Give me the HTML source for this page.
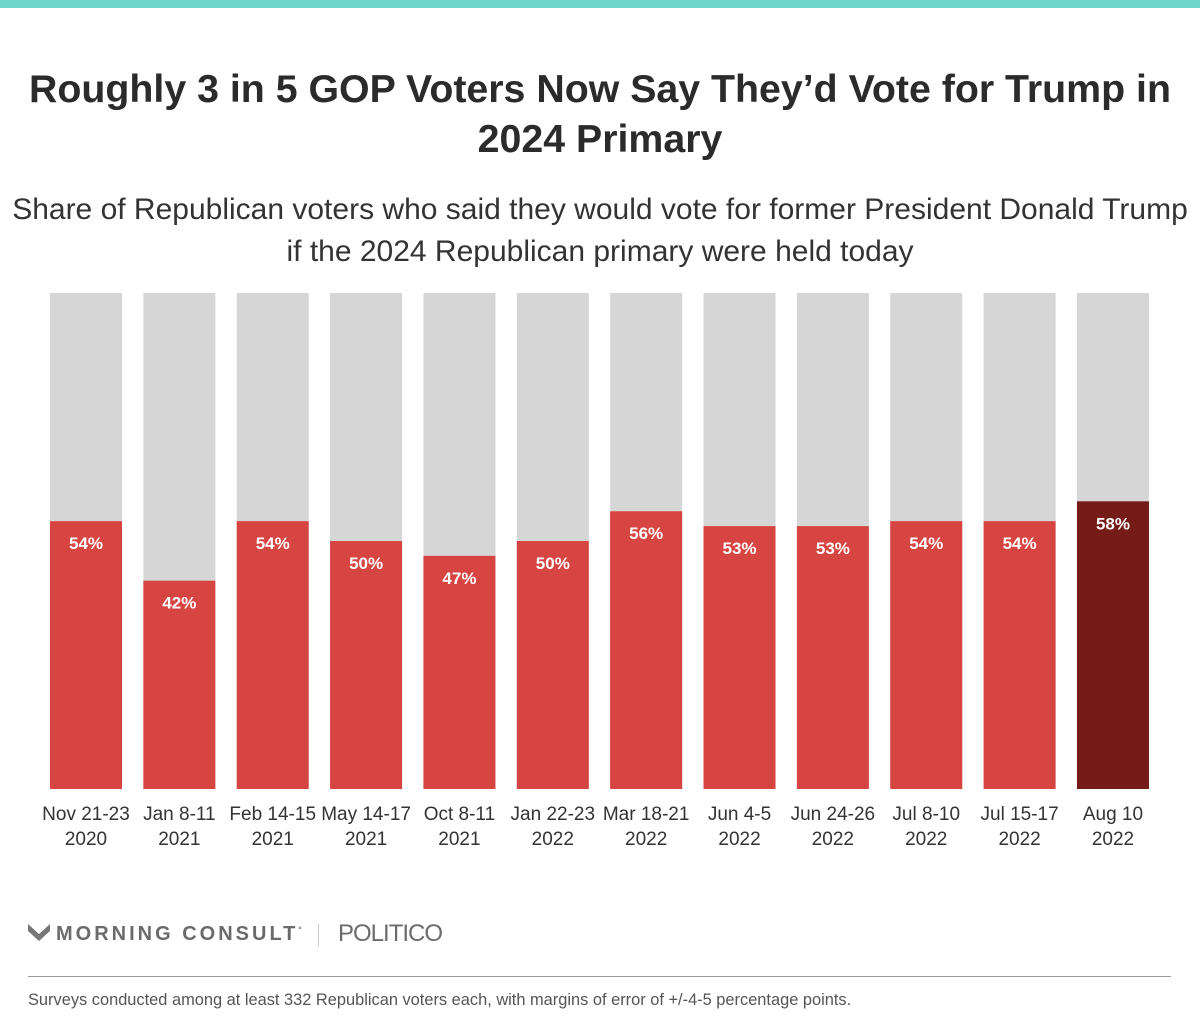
<!DOCTYPE html>
<html><head><meta charset="utf-8"><style>
body{margin:0;width:1200px;height:1020px;background:#fff;font-family:"Liberation Sans",sans-serif;position:relative;overflow:hidden;color:#333}
.a{position:absolute}
</style></head><body>
<div class="a" style="left:0;top:0;width:1200px;height:8px;background:#6fd4cc"></div>
<div class="a" style="left:0;top:64px;width:1200px;text-align:center;font-size:39.3px;font-weight:bold;line-height:50px;color:#2b2b2b">Roughly 3 in 5 GOP Voters Now Say They’d Vote for Trump in<br>2024 Primary</div>
<div class="a" style="left:0;top:189px;width:1200px;text-align:center;font-size:30px;line-height:42px;color:#333">Share of Republican voters who said they would vote for former President Donald Trump<br>if the 2024 Republican primary were held today</div>
<svg class="a" id="chart" style="left:0;top:0" width="1200" height="860"></svg>
<div class="a" style="left:28px;top:922px;font-size:20px;font-weight:bold;letter-spacing:3px;color:#6b6b6b"><svg width="22" height="20" style="vertical-align:-2px;margin-right:6px"><path d="M0 2 L11 12 L22 2 L22 9 L11 19 L0 9Z" fill="#777"/></svg>MORNING CONSULT<sup style="font-size:8px">°</sup></div>
<div class="a" style="left:318px;top:924px;width:1px;height:22px;background:#ccc"></div>
<div class="a" style="left:338px;top:920px;font-size:24px;color:#6b6b6b;letter-spacing:-1px">POLITICO</div>
<div class="a" style="left:28px;top:976px;width:1143px;height:1px;background:#999"></div>
<div class="a" style="left:28px;top:991px;font-size:16.4px;color:#555">Surveys conducted among at least 332 Republican voters each, with margins of error of +/-4-5 percentage points.</div>
<script>
const categories=["Nov 21-23","Jan 8-11","Feb 14-15","May 14-17","Oct 8-11","Jan 22-23","Mar 18-21","Jun 4-5","Jun 24-26","Jul 8-10","Jul 15-17","Aug 10"];
const years=["2020","2021","2021","2021","2021","2022","2022","2022","2022","2022","2022","2022"];
const values=[54,42,54,50,47,50,56,53,53,54,54,58];
const svg=document.getElementById('chart');
const NS='http://www.w3.org/2000/svg';
const x0=50,pitch=93.36,bw=72,yTop=293,yBot=789;
const y=v=>yBot-(v/100)*(yBot-yTop);
function mk(t,a){const e=document.createElementNS(NS,t);for(const k in a)e.setAttribute(k,a[k]);svg.appendChild(e);return e;}
values.forEach((v,i)=>{
 const x=x0+i*pitch;
 const bg=mk('rect',{x:x,y:yTop,width:bw,height:yBot-yTop,fill:'#d6d6d6'});
 
 
 const last=i===values.length-1;
 const r=mk('rect',{x:x,y:y(v),width:bw,height:yBot-y(v),fill:last?'#751b18':'#d64541'});
 
 
 const t=mk('text',{x:x+bw/2,y:y(v)+28,'text-anchor':'middle','font-size':'17','font-weight':'bold',fill:'#fff','font-family':'Liberation Sans, sans-serif'});
 t.textContent=v+'%';
 
 
 const c=mk('text',{x:x+bw/2,y:820,'text-anchor':'middle','font-size':'19',fill:'#333','font-family':'Liberation Sans, sans-serif'});
 c.textContent=categories[i];
 
 
 const yr=mk('text',{x:x+bw/2,y:845,'text-anchor':'middle','font-size':'19',fill:'#333','font-family':'Liberation Sans, sans-serif'});
 yr.textContent=years[i];
 
 
});
</script>
</body></html>
